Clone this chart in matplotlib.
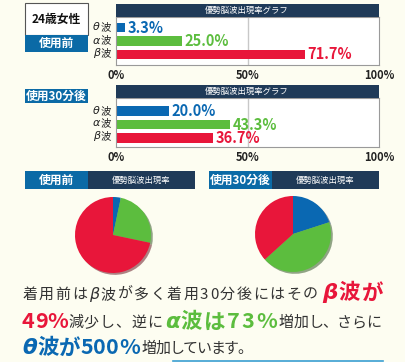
import matplotlib
matplotlib.use("Agg")
import matplotlib.pyplot as plt
from matplotlib.patches import Rectangle

W, H = 405, 362
JP = ['Noto Sans CJK JP', 'DejaVu Sans']
plt.rcParams['font.family'] = JP

# data
waves = ['θ', 'α', 'β']
before = [3.3, 25.0, 71.7]
after = [20.0, 43.3, 36.7]
ticks = [0, 50, 100]
tick_labels = ['0%', '50%', '100%']

BLUE = '#0a68b2'
GREEN = '#5cbd3e'
RED = '#e8163a'
NAVY = '#1f3a58'
HBLUE = '#0b6aa6'
BG = '#fdfdf1'
wave_colors = [BLUE, GREEN, RED]

fig = plt.figure(figsize=(W / 100, H / 100), dpi=100, facecolor=BG)


def fx(x):
    return x / W


def fy(y):
    return 1 - y / H


def box(x0, y0, x1, y1, fc, ec='none', lw=0):
    fig.patches.append(Rectangle((fx(x0), fy(y1)), fx(x1 - x0), (y1 - y0) / H,
                                 transform=fig.transFigure, fc=fc, ec=ec, lw=lw))


def label(x, y, s, **kw):
    kw.setdefault('ha', 'center')
    kw.setdefault('va', 'center')
    return fig.text(fx(x), fy(y), s, **kw)


def bar_chart(values, top, bottom, ylim):
    # header
    box(116, top - 13, 379, top, NAVY)
    label(247, top - 6.5, '優勢脳波出現率グラフ', color='white', fontsize=6)
    ax = fig.add_axes([fx(116), fy(bottom), fx(379 - 116), (bottom - top) / H])
    ax.set_facecolor('white')
    ypos = range(len(values))
    ax.barh(ypos, values, height=0.72, color=wave_colors)
    for yi, v, c in zip(ypos, values, wave_colors):
        ax.text(v + 1.2, yi, f'{v:.1f}%', color=c, fontsize=10.5, fontweight='bold',
                va='center', ha='left', family=JP)
    ax.axvline(50, color='#c8c8c8', lw=1, zorder=0)
    ax.set_xlim(0, 100)
    ax.set_ylim(*ylim)
    ax.set_xticks(ticks)
    ax.set_xticklabels(tick_labels, fontsize=8, fontweight='bold', color='#222222')
    ax.tick_params(length=0, pad=3)
    ax.set_yticks([])
    for sp in ax.spines.values():
        sp.set_color('#9a9a9a')
        sp.set_linewidth(0.8)
    return ax


# top-left label boxes
box(25, 3, 88, 35, 'white', ec='#555555', lw=0.8)
label(56.5, 19, '24歳女性', fontsize=8.5, fontweight='bold', color='#111111')
box(25, 35, 88, 52, HBLUE)
label(56.5, 43.5, '使用前', fontsize=8.5, fontweight='bold', color='white')

box(25, 89, 88, 103, HBLUE)
label(56.5, 96, '使用30分後', fontsize=8.5, fontweight='bold', color='white')

bar_chart(before, 17, 65, (2.8, -0.8))
bar_chart(after, 98, 147, (2.65, -0.95))

# wave name labels with 波
for yc, w in zip([27.5, 40.5, 53, 111, 123.5, 136], waves * 2):
    label(100, yc, w, fontsize=8, style='italic', family='DejaVu Sans', color='#222222', ha='right')
    label(100.5, yc, '波', fontsize=7.5, color='#222222', ha='left')

# pie headers
box(25, 171, 88, 189, HBLUE)
box(88, 171, 195, 189, NAVY)
label(56.5, 180, '使用前', fontsize=8.5, fontweight='bold', color='white')
label(141.5, 180, '優勢脳波出現率', fontsize=6, color='white')
box(209, 171, 272, 189, HBLUE)
box(272, 171, 379, 189, NAVY)
label(240.5, 180, '使用30分後', fontsize=8.5, fontweight='bold', color='white')
label(325.5, 180, '優勢脳波出現率', fontsize=6, color='white')

for cx, cy, vals in [(113, 235, before), (293, 234, after)]:
    r = 38
    s = r * 2.2
    pax = fig.add_axes([fx(cx - s / 2), fy(cy + s / 2), fx(s), s / H])
    pax.pie(vals, colors=wave_colors, startangle=90, counterclock=False,
            shadow={'ox': 0.035, 'oy': -0.035, 'shade': 0.6},
            wedgeprops={'linewidth': 0})
    pax.set_xlim(-1.1, 1.1)
    pax.set_ylim(-1.1, 1.1)
    pax.set_aspect('equal')
    pax.axis('off')

# bottom text, letter spacing nudged so pieces roughly span x0..x1
renderer = fig.canvas.get_renderer()
GRAY = '#333333'


def spread(y, s, x0, x1, kw, lo=-1.5, hi=4):
    chars = [fig.text(0, fy(y), ch, ha='left', va='center', **kw) for ch in s]
    widths = [t.get_window_extent(renderer).width for t in chars]
    gap = 0
    if len(s) > 1:
        gap = (x1 - x0 - sum(widths)) / (len(s) - 1)
        gap = min(max(gap, lo), hi)
    x = x0
    for t, w in zip(chars, widths):
        t.set_x(fx(x))
        x += w + gap
    return x


g = dict(fontsize=10.8, color=GRAY)
gi = dict(fontsize=11.5, color=GRAY, style='italic', family='DejaVu Sans')


def big(c):
    return dict(fontsize=15.5, color=c, fontweight='bold')


def greek(c):
    return dict(fontsize=15.5, color=c, fontweight='bold', style='italic', family='DejaVu Sans')


spread(295, '着用前は', 22, 87, g)
spread(295, 'β', 89, 97, gi)
spread(295, '波が多く着用30分後にはその', 100, 318, g)
xe = spread(293, 'β', 322, 334, greek(RED))
spread(293, '波が', max(xe + 1, 337), 383, big(RED), 0, 2)

spread(322, '49%', 22, 65, big(RED), 0, 2)
spread(323, '減少し、逆に', 68, 162, g)
xe = spread(322, 'α', 165, 177, greek(GREEN))
spread(322, '波は73%', max(xe + 1, 180), 277, big(GREEN), 0, 2.5)
spread(323, '増加し、さらに', 279, 381, g)

xe = spread(348, 'θ', 22, 33, greek(BLUE))
spread(348, '波が500%', max(xe + 1, 35), 139, big(BLUE), 0, 2)
spread(349, '増加しています。', 142, 252, g)

fig.lines.append(plt.Line2D([fx(173), fx(383)], [fy(361), fy(361)],
                            transform=fig.transFigure, color='#3a9fd2', lw=1.2))

fig.savefig('out.png', dpi=100, facecolor=BG)
